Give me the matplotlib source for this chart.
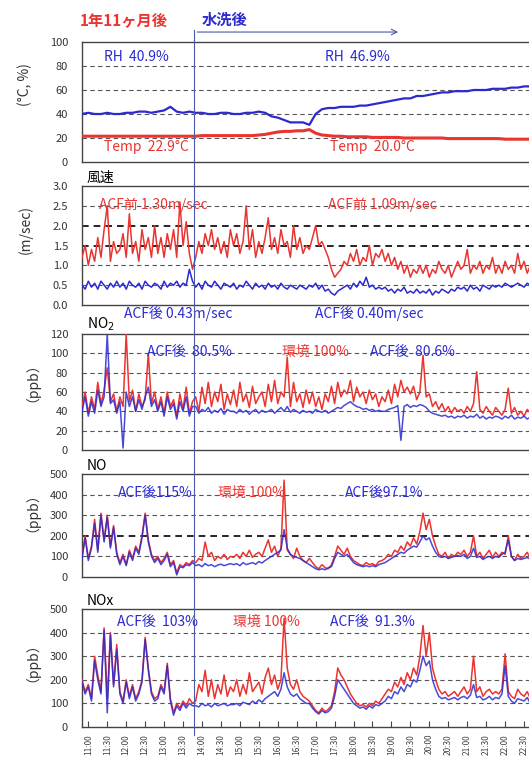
import matplotlib
matplotlib.use("Agg")
import matplotlib.pyplot as plt
import numpy as np
from matplotlib.lines import Line2D

plt.rcParams["font.family"] = ["Noto Sans CJK JP", "DejaVu Sans"]

RED = "#ea3430"
BLUE = "#2a2ad0"
GRID = "#555555"

START = 10 + 50 / 60  # first sample 10:50
WASH = 13.8           # 水洗 time (13:48)

# ---- 10-minute samples from 10:50 (temperature / humidity) ----
rh = [40, 41, 40, 40, 41, 40,
      40, 41, 41, 42, 42, 41,
      42, 43, 46, 42, 41, 42,
      41, 41, 40, 40, 41, 41,
      40, 40, 41, 41, 42, 41,
      38, 37, 35, 33, 33, 33,
      31, 40, 44, 45, 45, 46,
      46, 46, 47, 47, 48, 49,
      50, 51, 52, 53, 53, 55,
      55, 56, 57, 58, 58, 59,
      59, 59, 60, 60, 60, 61,
      61, 61, 62, 62, 63, 63]
temp = [21.5, 21.5, 21.5, 21.5, 21.5, 21.5,
        21.5, 21.5, 21.5, 21.5, 21.5, 21.5,
        21.5, 21.5, 21.5, 21.5, 21.5, 21.5,
        21.5, 22, 22, 22, 22, 22,
        22, 22, 22, 22, 22.5, 23,
        24, 25, 25.5, 25.5, 26, 26,
        27, 24, 22.5, 22, 21.5, 21.5,
        21, 21, 21, 21, 20.5, 20.5,
        20.5, 20.5, 20.5, 20, 20, 20,
        20, 20, 20, 20, 19.5, 19.5,
        19.5, 19.5, 19.5, 19.5, 19.5, 19.5,
        19.5, 19, 19, 19, 19, 19]

# ---- 5-minute samples from 10:50 ----
wind_before = [1.2, 1.5, 1.0, 1.4, 1.1, 1.7, 1.2, 1.9, 2.5, 1.1, 1.6, 1.3,
               1.4, 1.8, 1.2, 2.3, 1.3, 1.6, 1.1, 1.9, 1.4, 1.7, 1.2, 2.0,
               1.3, 1.7, 1.2, 1.8, 1.4, 1.9, 1.2, 2.6, 1.5, 2.1, 1.3, 0.9,
               1.2, 1.6, 1.3, 1.8, 1.5, 1.9, 1.4, 1.7, 1.3, 1.6, 1.2, 1.9,
               1.5, 1.8, 1.3, 1.6, 2.5, 1.4, 1.9, 1.2, 1.6, 1.3, 1.7, 2.2,
               1.4, 1.7, 1.3, 1.9, 1.5, 1.6, 1.2, 2.0, 1.4, 1.7, 1.3, 1.5,
               1.4, 1.7, 2.0, 1.5, 1.6, 1.4, 1.2, 0.9, 0.7, 0.8, 0.9, 1.1,
               1.0, 1.3, 1.1, 1.4, 1.0, 1.2, 1.1, 1.5, 1.0, 1.3, 1.2, 1.4,
               1.1, 1.3, 1.0, 1.2, 0.9, 1.1, 0.8, 1.0, 0.7, 0.9, 0.8, 1.0,
               0.8, 1.0, 0.7, 0.9, 0.8, 1.1, 0.9, 0.8, 1.0, 0.7, 0.9, 1.1,
               0.9, 1.0, 1.4, 0.8, 1.0, 0.9, 1.1, 0.8, 1.0, 0.9, 1.2, 0.8,
               1.0, 0.8, 1.1, 0.9, 1.0, 0.8, 1.3, 0.9, 1.1, 0.8, 1.0, 0.9]
wind_after = [0.5, 0.4, 0.6, 0.45, 0.55, 0.4, 0.6, 0.5, 0.4, 0.55, 0.45, 0.6,
              0.45, 0.55, 0.4, 0.6, 0.5, 0.45, 0.55, 0.4, 0.6, 0.5, 0.45, 0.55,
              0.5, 0.4, 0.6, 0.45, 0.55, 0.5, 0.6, 0.45, 0.55, 0.5, 0.9, 0.6,
              0.45, 0.55, 0.4, 0.6, 0.5, 0.45, 0.6, 0.5, 0.4, 0.55, 0.5, 0.45,
              0.55, 0.4, 0.5, 0.45, 0.6, 0.5, 0.4, 0.55, 0.45, 0.5, 0.4, 0.55,
              0.45, 0.5, 0.4, 0.55, 0.45, 0.4, 0.5, 0.45, 0.4, 0.5, 0.45, 0.4,
              0.5, 0.45, 0.55, 0.4, 0.5, 0.35, 0.4, 0.3, 0.25, 0.35, 0.4, 0.45,
              0.5, 0.4, 0.55, 0.45, 0.6, 0.5, 0.7, 0.45, 0.5, 0.4, 0.45, 0.4,
              0.45, 0.35, 0.4, 0.3, 0.4, 0.35, 0.45, 0.3, 0.35, 0.3, 0.4, 0.3,
              0.35, 0.3, 0.4, 0.25, 0.35, 0.3, 0.4, 0.35, 0.3, 0.4, 0.35, 0.45,
              0.4, 0.45, 0.35, 0.5, 0.4, 0.45, 0.35, 0.5, 0.45, 0.4, 0.5, 0.45,
              0.5, 0.45, 0.55, 0.5, 0.45, 0.5, 0.55, 0.5, 0.45, 0.55, 0.5, 0.55]

no2_env = [45, 60, 38, 55, 42, 70, 48, 62, 85, 50, 58, 40,
           55, 45, 120, 50, 62, 40, 58, 45, 52, 100, 48, 60,
           42, 55, 38, 60, 45, 52, 35, 58, 42, 65, 38, 50,
           55, 40, 65, 48, 70, 45, 60, 50, 68, 42, 58, 47,
           62, 45, 70, 50, 58, 44, 66, 48, 55, 60, 45, 68,
           50, 72, 48, 60, 55, 96, 45, 70, 50, 58, 44, 62,
           48, 60, 45, 55, 42, 58, 50, 66, 48, 70, 55, 62,
           58, 72, 50, 65, 55, 60, 48, 62, 52, 58, 45, 55,
           50, 62, 48, 68, 55, 72, 60, 65, 58, 66, 52, 60,
           98, 55, 58, 45, 50, 42, 48, 40, 45, 38, 44, 40,
           42, 38, 45, 40, 48, 81, 42, 38, 45, 40, 36, 44,
           40, 36, 42, 64, 38, 44, 36, 40, 35, 42, 38, 40]
no2_acf = [40, 55, 35, 50, 38, 62, 45, 55, 120, 48, 52, 38,
           50, 2, 60, 45, 55, 40, 52, 42, 55, 65, 45, 52,
           40, 50, 35, 55, 42, 48, 32, 50, 40, 55, 35, 45,
           45, 38, 42, 40, 44, 38, 41, 39, 43, 37, 42, 40,
           40, 38, 42, 39, 41, 37, 40, 42, 38, 41, 39, 40,
           42, 38, 41, 44, 40, 45, 39, 42, 40, 38, 41, 39,
           40, 38, 42, 40, 39, 41, 38, 40, 42, 44, 43, 46,
           48, 50, 47, 45, 44, 42, 43, 41, 42, 40, 41, 40,
           40, 42, 43, 44, 46, 10, 45, 47, 44, 46, 45, 47,
           46, 44, 40, 38, 37, 36, 35, 36, 34, 35, 33, 35,
           34, 36, 33, 35, 34, 37, 33, 35, 32, 34, 33, 35,
           34, 32, 35, 33, 36, 32, 34, 33, 35, 32, 34, 33]

no_env = [100, 200, 90, 150, 280, 130, 310, 180, 300, 150, 250, 120,
          70, 110, 60, 130, 90, 150, 120, 200, 310, 180, 110, 80,
          100, 70, 90, 120, 60, 80, 20, 60, 50, 70, 60, 80,
          70, 90, 80, 170, 100, 120, 80, 100, 90, 110, 85, 100,
          95, 110, 90, 120, 100, 130, 95, 110, 120, 100, 140, 180,
          120, 150, 100, 140, 470, 130, 110, 90, 140, 100, 80, 70,
          90, 70, 50, 40, 60, 45, 40, 60, 100, 150, 130, 110,
          140, 100, 80, 70, 60, 55, 70, 60, 65, 55, 75, 80,
          90, 110, 100, 130, 120, 150, 130, 170, 150, 190, 160, 220,
          310, 230, 280, 200, 150, 110, 100, 120, 90, 110, 100, 120,
          110, 130, 100, 120, 200, 100, 120, 90, 110, 130, 95, 120,
          100, 120, 110, 200, 100, 80, 110, 90, 100, 120, 90, 100]
no_acf = [90, 190, 80, 140, 260, 120, 300, 170, 290, 140, 240, 110,
          60, 100, 55, 120, 80, 140, 110, 190, 300, 170, 100, 70,
          90, 60, 80, 110, 50, 70, 10, 50, 45, 60, 55, 70,
          55, 60, 50, 65, 55, 60, 50, 58, 62, 55, 60, 65,
          60, 65, 55, 70, 60, 65, 70, 62, 75, 68, 80, 90,
          100, 110, 120, 130, 230, 140, 110, 100, 95, 90, 80, 70,
          60, 50, 40, 35, 40, 35, 45, 50, 90, 120, 110, 100,
          110, 90, 70, 60, 55, 50, 55, 50, 55, 50, 60, 65,
          70, 80, 90, 100, 110, 120, 115, 130, 140, 150, 145, 170,
          200, 180, 190, 150, 120, 100, 95, 100, 90, 95, 100, 105,
          100, 110, 90, 100, 140, 95, 100, 85, 95, 100, 90, 100,
          95, 110, 120, 180, 100, 80, 90, 85, 90, 95, 85, 90]

nox_env = [200, 150, 180, 120, 300, 220, 150, 420, 120, 400, 180, 350,
           150, 110, 200, 130, 180, 120, 150, 200, 380, 250, 150, 120,
           130, 180, 150, 270, 120, 60, 100, 80, 110, 90, 120, 100,
           110, 180, 150, 240, 130, 200, 120, 180, 140, 220, 130, 170,
           150, 200, 130, 180, 140, 230, 150, 170, 190, 140, 210, 250,
           180, 220, 160, 200, 460, 250, 180, 160, 200, 150, 130, 120,
           110, 90, 70, 60, 80, 65, 75, 90, 150, 250, 220, 200,
           170, 140, 120, 100, 90, 95, 85, 100, 90, 110, 100, 120,
           140, 160, 150, 190, 170, 210, 180, 230, 200, 250, 220, 300,
           430, 300, 400, 250, 200, 160, 140, 150, 130, 140, 150, 130,
           150, 170, 140, 160, 300, 150, 170, 130, 150, 160, 140, 150,
           140, 160, 310, 150, 130, 120, 160, 140, 130, 150, 120, 140]
nox_acf = [190, 140, 170, 110, 280, 200, 140, 410, 60, 390, 170, 330,
           140, 100, 190, 120, 170, 110, 140, 190, 370, 240, 140, 110,
           120, 170, 140, 260, 110, 50, 90, 70, 100, 80, 100, 90,
           90, 85, 100, 90, 95, 85, 100, 90, 95, 100, 90, 95,
           95, 100, 90, 105, 100, 95, 110, 100, 115, 105, 120, 130,
           140, 150, 130, 160, 230, 170, 140, 130, 140, 120, 110, 100,
           100, 80, 65, 55, 70, 60, 65, 80, 130, 200, 180, 160,
           140, 120, 100, 90, 80, 85, 75, 90, 80, 95, 90, 100,
           110, 130, 120, 150, 140, 170, 150, 180, 170, 200, 190, 240,
           300, 260, 280, 200, 160, 130, 120, 125, 115, 120, 125, 115,
           125, 130, 120, 135, 180, 125, 130, 115, 120, 130, 115, 125,
           120, 140, 260, 130, 110, 100, 120, 115, 110, 125, 100, 115]

time_labels = ["11:00", "11:30", "12:00", "12:30", "13:00", "13:30",
               "14:00", "14:30", "15:00", "15:30", "16:00", "16:30",
               "17:00", "17:30", "18:00", "18:30", "19:00", "19:30",
               "20:00", "20:30", "21:00", "21:30", "22:00", "22:30"]


def hours(series, step_min):
    return START + np.arange(len(series)) * step_min / 60


def to_h(label):
    h, m = label.split(":")
    return int(h) + int(m) / 60


W, H = 529, 758
fig = plt.figure(figsize=(W / 100, H / 100), dpi=100)


def panel(top, bottom, ylim, yticks, ytick_labels):
    ax = fig.add_axes([82 / W, 1 - bottom / H, 461 / W, (bottom - top) / H])
    ax.set_xlim(START, 23.0)
    ax.set_ylim(*ylim)
    ax.set_yticks(yticks)
    ax.set_yticklabels(ytick_labels)
    ax.tick_params(axis="y", length=0, pad=10, labelsize=8, labelcolor="#333333")
    ax.set_xticks([])
    for s in ax.spines.values():
        s.set_color("#444444")
        s.set_linewidth(1.0)
    return ax


def grid(ax, values, dark=()):
    for v in values:
        if v in dark:
            ax.axhline(v, color="black", lw=1.2, ls=(0, (4, 3)), zorder=1)
        else:
            ax.axhline(v, color=GRID, lw=0.8, ls=(0, (4, 3)), zorder=1)


def label(ax, x, y, s, color, size=10):
    ax.text(x, y, s, color=color, fontsize=size, transform=ax.get_xaxis_transform(),
            va="center", ha="left", zorder=5)


# ---- panel 1 : temperature / RH ----
ax1 = panel(42, 162, (0, 100), [0, 20, 40, 60, 80, 100],
            ["0", "20", "40", "60", "80", "100"])
grid(ax1, [20, 40, 60, 80])
ax1.plot(hours(temp, 10), temp, color=RED, lw=2.2, zorder=3)
ax1.plot(hours(rh, 10), rh, color=BLUE, lw=1.6, zorder=4)
label(ax1, 11.42, 0.875, "RH  40.9%", BLUE)
label(ax1, 17.24, 0.875, "RH  46.9%", BLUE)
label(ax1, 11.42, 0.125, "Temp  22.9°C", RED)
label(ax1, 17.38, 0.125, "Temp  20.0°C", RED)

# ---- panel 2 : wind speed ----
ax2 = panel(186, 305, (0, 3.0), [0, 0.5, 1.0, 1.5, 2.0, 2.5, 3.0],
            ["0.0", "0.5", "1.0", "1.5", "2.0", "2.5", "3.0"])
grid(ax2, [0.5, 1.0, 1.5, 2.0, 2.5], dark=(1.5, 2.0))
ax2.plot(hours(wind_before, 5), wind_before, color=RED, lw=1.1, zorder=3)
ax2.plot(hours(wind_after, 5), wind_after, color=BLUE, lw=1.1, zorder=4)
label(ax2, 11.29, 0.84, "ACF前 1.30m/sec", RED)
label(ax2, 17.32, 0.84, "ACF前 1.09m/sec", RED)
label(ax2, 11.95, -0.07, "ACF後 0.43m/sec", BLUE)
label(ax2, 16.98, -0.07, "ACF後 0.40m/sec", BLUE)

# ---- panel 3 : NO2 ----
ax3 = panel(334, 450, (0, 120), [0, 20, 40, 60, 80, 100, 120],
            ["0", "20", "40", "60", "80", "100", "120"])
grid(ax3, [20, 40, 60, 80, 100])
ax3.plot(hours(no2_env, 5), no2_env, color=RED, lw=1.1, zorder=3)
ax3.plot(hours(no2_acf, 5), no2_acf, color=BLUE, lw=1.1, alpha=0.85, zorder=4)
label(ax3, 12.56, 0.845, "ACF後  80.5%", BLUE)
label(ax3, 16.1, 0.845, "環境 100%", RED)
label(ax3, 18.43, 0.845, "ACF後  80.6%", BLUE)

# ---- panel 4 : NO ----
ax4 = panel(474, 577, (0, 500), [0, 100, 200, 300, 400, 500],
            ["0", "100", "200", "300", "400", "500"])
grid(ax4, [100, 200, 300, 400], dark=(200,))
ax4.plot(hours(no_env, 5), no_env, color=RED, lw=1.1, zorder=3)
ax4.plot(hours(no_acf, 5), no_acf, color=BLUE, lw=1.1, alpha=0.85, zorder=4)
label(ax4, 11.77, 0.815, "ACF後115%", BLUE)
label(ax4, 14.41, 0.815, "環境 100%", RED)
label(ax4, 17.77, 0.815, "ACF後97.1%", BLUE)

# ---- panel 5 : NOx ----
ax5 = panel(609, 727, (0, 500), [0, 100, 200, 300, 400, 500],
            ["0", "100", "200", "300", "400", "500"])
grid(ax5, [100, 200, 300, 400])
ax5.plot(hours(nox_env, 5), nox_env, color=RED, lw=1.1, zorder=3)
ax5.plot(hours(nox_acf, 5), nox_acf, color=BLUE, lw=1.1, alpha=0.85, zorder=4)
label(ax5, 11.77, 0.89, "ACF後  103%", BLUE)
label(ax5, 14.81, 0.89, "環境 100%", RED)
label(ax5, 17.38, 0.89, "ACF後  91.3%", BLUE)
ax5.set_xticks([to_h(s) for s in time_labels])
ax5.set_xticklabels(time_labels, rotation=90, fontsize=6, color="#444444")
ax5.tick_params(axis="x", direction="in", length=4, pad=5, color="#444444")

# panel titles
for ax, title in [(ax2, "風速"), (ax3, "NO$_2$"), (ax4, "NO"), (ax5, "NOx")]:
    ax.text(0.01, 1.01, title, transform=ax.transAxes, fontsize=10,
            va="bottom", ha="left")

# y-axis unit labels
for ycen, s in [(85, "(°C, %)"), (230, "(m/sec)"), (375, "（ppb）"),
                (505, "（ppb）"), (655, "（ppb）")]:
    fig.text(25 / W, 1 - ycen / H, s, rotation=90, fontsize=10,
             ha="center", va="center", color="#333333")

# washing moment: vertical line through all panels and arrow on top
xd = ax1.transData.transform((WASH, 0))[0]
xf = fig.transFigure.inverted().transform((xd, 0))[0]
fig.add_artist(Line2D([xf, xf], [1 - 30 / H, 1 - 735 / H], transform=fig.transFigure,
                      color="#4a5aa8", lw=0.8))
ax1.annotate("", xy=(19.25, 1.083), xytext=(WASH, 1.083),
             xycoords=("data", "axes fraction"), annotation_clip=False,
             arrowprops=dict(arrowstyle="->", color="#4a5aa8", lw=0.8))
fig.text(80 / W, 1 - 20 / H, "1年11ヶ月後", color=RED, fontsize=11,
         fontweight="bold", va="center", ha="left")
fig.text(202 / W, 1 - 20 / H, "水洗後", color=BLUE, fontsize=11,
         fontweight="bold", va="center", ha="left")

fig.savefig("out.png", dpi=100)
